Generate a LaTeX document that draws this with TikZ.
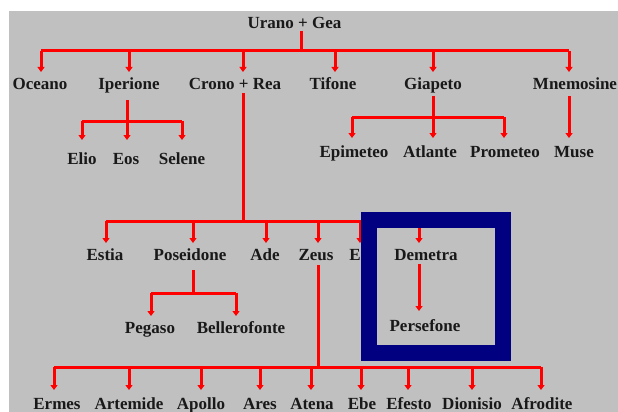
\documentclass[tikz,border=0pt]{standalone}
\usepackage{fontspec}
\setmainfont{Liberation Serif}
\usetikzlibrary{arrows.meta}
\definecolor{bggray}{RGB}{192,192,192}
\definecolor{boxnavy}{RGB}{0,0,128}
\definecolor{linered}{RGB}{255,0,0}
\tikzset{
  god/.style={anchor=base,inner sep=0pt,font=\fontsize{17}{17}\selectfont\bfseries,text=black!90},
  link/.style={draw=linered,line width=3pt},
  arr/.style={link,-{Triangle[width=7pt,length=5pt]}},
}
\begin{document}
\begin{tikzpicture}[x=1pt,y=-1pt]
\useasboundingbox (0,0) rectangle (618,412);
\fill[bggray] (9,11) rectangle (618,412);
% nodes
\node[god] (urano) at (294.5,29) {Urano + Gea};
\node[god] (oceano) at (40,89) {Oceano};
\node[god] (iperione) at (129,89) {Iperione};
\node[god] (crono) at (235,89) {Crono + Rea};
\node[god] (tifone) at (333,89) {Tifone};
\node[god] (giapeto) at (433,89) {Giapeto};
\node[god] (mnemo) at (575,89) {Mnemosine};
\node[god] (elio) at (82,164) {Elio};
\node[god] (eos) at (126,164) {Eos};
\node[god] (selene) at (182,164) {Selene};
\node[god] (epim) at (354,157) {Epimeteo};
\node[god] (atlante) at (430,157) {Atlante};
\node[god] (prom) at (505,157) {Prometeo};
\node[god] (muse) at (574,157) {Muse};
\node[god] (estia) at (105,260) {Estia};
\node[god] (poseidone) at (190,260) {Poseidone};
\node[god] (ade) at (265,260) {Ade};
\node[god] (zeus) at (316,260) {Zeus};
\node[god] (era) at (363,260) {Era};
\node[god] (demetra) at (426,260) {Demetra};
\node[god] (pegaso) at (150,333) {Pegaso};
\node[god] (beller) at (241,333) {Bellerofonte};
\node[god] (persefone) at (425,331) {Persefone};
\node[god] (ermes) at (57,409) {Ermes};
\node[god] (artemide) at (129,409) {Artemide};
\node[god] (apollo) at (201,409) {Apollo};
\node[god] (ares) at (260,409) {Ares};
\node[god] (atena) at (312,409) {Atena};
\node[god] (ebe) at (362,409) {Ebe};
\node[god] (efesto) at (409,409) {Efesto};
\node[god] (dionisio) at (472,409) {Dionisio};
\node[god] (afrodite) at (542,409) {Afrodite};
% coordinates: parent start points, buses, arrow tips
\coordinate (s-urano) at (301,31);
\coordinate (b-urano) at (301,51);
\coordinate (t-oceano) at (41,72);
\coordinate (t-iperione) at (129,72);
\coordinate (t-crono) at (243,72);
\coordinate (t-tifone) at (335,72);
\coordinate (t-giapeto) at (433,72);
\coordinate (t-mnemo) at (569,72);
\coordinate (s-iperione) at (127,100);
\coordinate (b-iperione) at (127,121);
\coordinate (t-elio) at (82,140);
\coordinate (t-eos) at (127,140);
\coordinate (t-selene) at (182,140);
\coordinate (s-giapeto) at (433,96);
\coordinate (b-giapeto) at (433,117);
\coordinate (t-epim) at (352,138);
\coordinate (t-atlante) at (433,138);
\coordinate (t-prom) at (504,138);
\coordinate (s-mnemo) at (569,96);
\coordinate (t-muse) at (569,138);
\coordinate (s-crono) at (243,93);
\coordinate (b-crono) at (243,221);
\coordinate (t-estia) at (106,243);
\coordinate (t-poseidone) at (193,243);
\coordinate (t-ade) at (266,243);
\coordinate (t-zeus) at (318,243);
\coordinate (t-era) at (360,243);
\coordinate (t-demetra) at (419,243);
\coordinate (s-poseidone) at (193,270);
\coordinate (b-poseidone) at (193,293);
\coordinate (t-pegaso) at (151,316);
\coordinate (t-beller) at (236,316);
\coordinate (s-demetra) at (419,264);
\coordinate (t-persefone) at (419,311);
\coordinate (s-zeus) at (318,265);
\coordinate (b-zeus) at (318,367);
\coordinate (t-ermes) at (54,390);
\coordinate (t-artemide) at (129,390);
\coordinate (t-apollo) at (201,390);
\coordinate (t-ares) at (260,390);
\coordinate (t-atena) at (311,390);
\coordinate (t-ebe) at (361,390);
\coordinate (t-efesto) at (408,390);
\coordinate (t-dionisio) at (472,390);
\coordinate (t-afrodite) at (541,390);
% Urano + Gea
\draw[link] (s-urano) -- (b-urano);
\draw[link] (t-oceano |- b-urano) -- (t-mnemo |- b-urano);
\foreach \c in {oceano,iperione,crono,tifone,giapeto,mnemo}
  \draw[arr] (t-\c |- b-urano) -- (t-\c);
% Iperione
\draw[link] (s-iperione) -- (b-iperione);
\draw[link] (t-elio |- b-iperione) -- (t-selene |- b-iperione);
\foreach \c in {elio,eos,selene}
  \draw[arr] (t-\c |- b-iperione) -- (t-\c);
% Giapeto
\draw[link] (s-giapeto) -- (b-giapeto);
\draw[link] (t-epim |- b-giapeto) -- (t-prom |- b-giapeto);
\foreach \c in {epim,atlante,prom}
  \draw[arr] (t-\c |- b-giapeto) -- (t-\c);
% Mnemosine
\draw[arr] (s-mnemo) -- (t-muse);
% Crono + Rea
\draw[link] (s-crono) -- (b-crono);
\draw[link] (t-estia |- b-crono) -- (t-demetra |- b-crono);
\foreach \c in {estia,poseidone,ade,zeus,era,demetra}
  \draw[arr] (t-\c |- b-crono) -- (t-\c);
% Poseidone
\draw[link] (s-poseidone) -- (b-poseidone);
\draw[link] (t-pegaso |- b-poseidone) -- (t-beller |- b-poseidone);
\foreach \c in {pegaso,beller}
  \draw[arr] (t-\c |- b-poseidone) -- (t-\c);
% Demetra
\draw[arr] (s-demetra) -- (t-persefone);
% Zeus
\draw[link] (s-zeus) -- (b-zeus);
\draw[link] (t-ermes |- b-zeus) -- (t-afrodite |- b-zeus);
\foreach \c in {ermes,artemide,apollo,ares,atena,ebe,efesto,dionisio,afrodite}
  \draw[arr] (t-\c |- b-zeus) -- (t-\c);
% highlight box
\draw[boxnavy,line width=16pt] (369,220) rectangle (503,353);
\end{tikzpicture}
\end{document}
